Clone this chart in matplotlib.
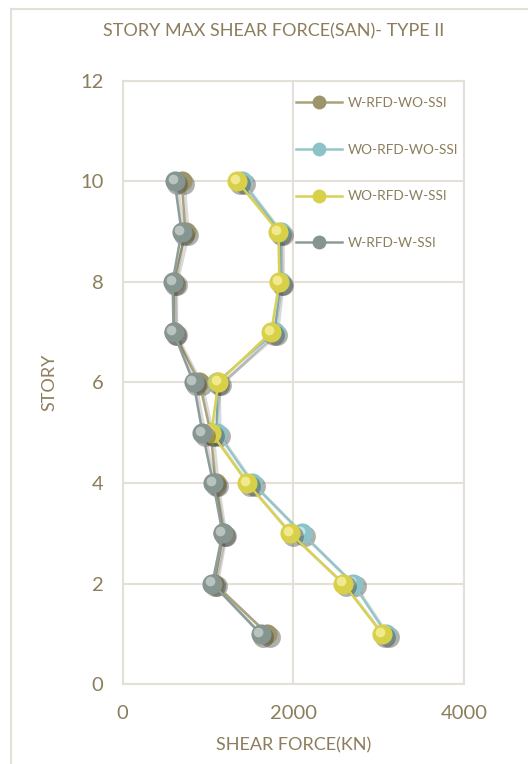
import matplotlib
matplotlib.use("Agg")
import matplotlib.pyplot as plt
from matplotlib.lines import Line2D
from matplotlib.transforms import offset_copy

# story shear force per series (kN)
stories = [1, 2, 3, 4, 5, 6, 7, 8, 9, 10]
w_rfd_wo_ssi = [1695, 1075, 1180, 1090, 1030, 900, 600, 600, 737, 690]
wo_rfd_wo_ssi = [3090, 2700, 2100, 1520, 1110, 1100, 1780, 1850, 1850, 1400]
wo_rfd_w_ssi = [3040, 2585, 1965, 1460, 1040, 1120, 1740, 1836, 1825, 1345]
w_rfd_w_ssi = [1615, 1050, 1170, 1060, 935, 830, 596, 585, 690, 608]

labels = ["W-RFD-WO-SSI", "WO-RFD-WO-SSI", "WO-RFD-W-SSI", "W-RFD-W-SSI"]
line_colors = ["#aaa47c", "#94c6ca", "#d8d153", "#8c9c98"]
face_colors = ["#9c946a", "#8cc3c8", "#d9d049", "#86958f"]
light_colors = ["#d6d0aa", "#d4ecee", "#f6f0a0", "#c6d0cd"]

x_ticks = [0, 2000, 4000]
y_ticks = [0, 2, 4, 6, 8, 10, 12]

text_col = "#8c7d5c"
grid_col = "#e4e0d7"

plt.rcParams["font.family"] = ["Lato", "DejaVu Sans"]

fig = plt.figure(figsize=(5.28, 7.64), dpi=100)
ax = fig.add_axes([0.2324, 0.1047, 0.6464, 0.7893])

all_series = [w_rfd_wo_ssi, wo_rfd_wo_ssi, wo_rfd_w_ssi, w_rfd_w_ssi]
handles = []
for i, vals in enumerate(all_series):
    # soft drop shadow under line and spheres
    shadow = offset_copy(ax.transData, fig=fig, x=2, y=-2, units="points")
    ax.plot(vals, stories, color="#000000", alpha=0.15, lw=2.2, transform=shadow, zorder=2 + i)
    ax.plot(vals, stories, ls="none", marker="o", ms=15, mfc="#3a3a30", mec="none",
            alpha=0.4, transform=shadow, zorder=2 + i)
    ax.plot(vals, stories, color=line_colors[i], lw=1.8, zorder=3 + i)
    ax.plot(vals, stories, ls="none", marker="o", ms=14.5, mfc=face_colors[i],
            mec="none", zorder=3 + i)
    hl = offset_copy(ax.transData, fig=fig, x=-1.5, y=1.5, units="points")
    ax.plot(vals, stories, ls="none", marker="o", ms=7, mfc=light_colors[i],
            mec="none", alpha=0.8, transform=hl, zorder=3 + i)
    handles.append(Line2D([], [], color=line_colors[i], lw=1.8, marker="o", ms=10,
                          mfc=face_colors[i], mec="none"))

ax.set_xlim(0, 4000)
ax.set_ylim(0, 12)
ax.set_xticks(x_ticks)
ax.set_yticks(y_ticks)
ax.grid(True, color=grid_col, lw=1.5, zorder=0)
ax.set_axisbelow(True)
for s in ax.spines.values():
    s.set_color(grid_col)
    s.set_linewidth(1.5)
ax.tick_params(length=0, labelsize=14.5, labelcolor=text_col)
ax.tick_params(axis="y", pad=14)
ax.tick_params(axis="x", pad=15)

ax.set_xlabel("SHEAR FORCE(KN)", fontsize=13, color=text_col, labelpad=11)
ax.set_ylabel("STORY", fontsize=13, color=text_col, labelpad=16)
fig.text(0.518, 0.959, "STORY MAX SHEAR FORCE(SAN)- TYPE II", ha="center", va="center",
         fontsize=13, color=text_col)

leg = fig.legend(handles, labels, loc="upper left", bbox_to_anchor=(0.537, 0.889),
                 frameon=False, fontsize=9.8, labelcolor=text_col, handlelength=3.4,
                 labelspacing=2.55, handletextpad=0.45)

# outer chart frame (left and top edges)
fig.add_artist(Line2D([11 / 528, 11 / 528], [0, 1 - 9 / 764], color=grid_col, lw=1.5))
fig.add_artist(Line2D([11 / 528, 1], [1 - 9 / 764, 1 - 9 / 764], color=grid_col, lw=1.5))

fig.savefig("out.png", dpi=100)
